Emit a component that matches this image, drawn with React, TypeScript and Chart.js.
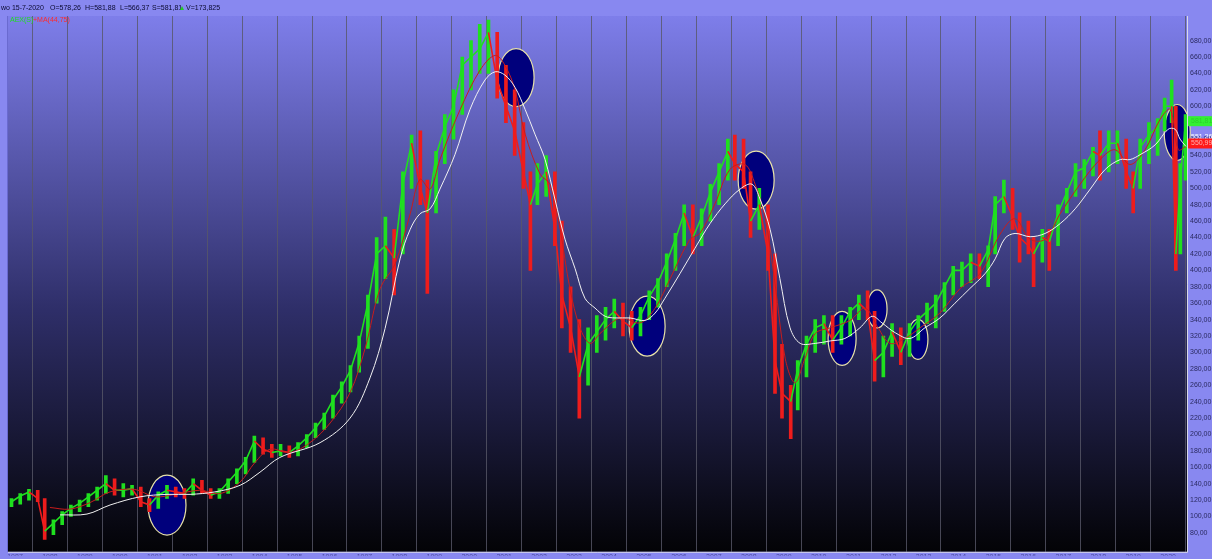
import React, { useEffect, useRef } from "react";
import { Chart, registerables } from "chart.js";

Chart.register(...registerables);

// ---- price bars (period date, low, high, close) ----
const barDates = [
  1986.9, 1987.15, 1987.4, 1987.65, 1987.85,
  1988.1, 1988.35, 1988.6, 1988.85,
  1989.1, 1989.35, 1989.6, 1989.85,
  1990.1, 1990.35, 1990.6, 1990.85,
  1991.1, 1991.35, 1991.6, 1991.85,
  1992.1, 1992.35, 1992.6, 1992.85,
  1993.1, 1993.35, 1993.6, 1993.85,
  1994.1, 1994.35, 1994.6, 1994.85,
  1995.1, 1995.35, 1995.6, 1995.85,
  1996.1, 1996.35, 1996.6, 1996.85,
  1997.1, 1997.35, 1997.6, 1997.85,
  1998.1, 1998.35, 1998.6, 1998.8,
  1999.05, 1999.3, 1999.55, 1999.8,
  2000.05, 2000.3, 2000.55, 2000.8,
  2001.05, 2001.3, 2001.55, 2001.75, 2001.95,
  2002.2, 2002.45, 2002.65, 2002.9,
  2003.15, 2003.4, 2003.65, 2003.9,
  2004.15, 2004.4, 2004.65, 2004.9,
  2005.15, 2005.4, 2005.65, 2005.9,
  2006.15, 2006.4, 2006.65, 2006.9,
  2007.15, 2007.4, 2007.6, 2007.85,
  2008.05, 2008.3, 2008.55, 2008.75, 2008.95,
  2009.2, 2009.4, 2009.65, 2009.9,
  2010.15, 2010.4, 2010.65, 2010.9,
  2011.15, 2011.4, 2011.6, 2011.85,
  2012.1, 2012.35, 2012.6, 2012.85,
  2013.1, 2013.35, 2013.6, 2013.85,
  2014.1, 2014.35, 2014.6, 2014.85,
  2015.05, 2015.3, 2015.55, 2015.75,
  2016.0, 2016.15, 2016.4, 2016.6, 2016.85,
  2017.1, 2017.35, 2017.6, 2017.85,
  2018.05, 2018.3, 2018.55, 2018.8,
  2019.0, 2019.2, 2019.45, 2019.7, 2019.9,
  2020.1, 2020.22, 2020.35, 2020.5,
];
const barLows = [
  112, 115, 120, 118, 72,
  78, 90, 100, 106,
  112, 120, 128, 126,
  124, 126, 112, 106,
  110, 122, 124, 122,
  126, 128, 122, 122,
  128, 140, 152, 166,
  176, 172, 174, 172,
  174, 184, 196, 206,
  220, 238, 252, 276,
  305, 360, 390, 370,
  420, 500, 480, 372,
  470, 530, 560, 590,
  620, 640, 640, 610,
  580, 540, 500, 400, 480,
  490, 430, 330, 300,
  220, 260, 300, 315,
  330, 320, 315, 320,
  340, 355, 380, 400,
  430, 420, 430, 460,
  480, 510, 510, 500,
  440, 450, 400, 250, 220,
  195, 230, 270, 300,
  310, 300, 310, 320,
  340, 340, 265, 270,
  295, 285, 295, 315,
  335, 330, 350, 370,
  380, 385, 390, 380,
  420, 470, 450, 410,
  420, 380, 410, 400, 430,
  470, 490, 500, 515,
  510, 520, 530, 500,
  470, 500, 530, 540, 570,
  580, 400, 420, 510,
];
const barHighs = [
  122, 128, 133, 132, 122,
  96, 106, 114, 120,
  128, 136, 150, 146,
  140, 138, 136, 122,
  130, 138, 136, 134,
  146, 144, 134, 134,
  146, 158, 172, 198,
  196, 188, 188, 186,
  190, 200, 214, 226,
  248, 264, 284, 320,
  370, 440, 465, 450,
  520, 565, 570, 510,
  545, 590, 620, 660,
  680, 700, 705, 690,
  650, 620, 580, 520, 530,
  540, 520, 460, 380,
  340, 330, 345, 355,
  365, 360, 350, 355,
  375, 390, 420, 445,
  480, 480, 475, 505,
  530, 560, 565, 560,
  520, 500, 480, 420, 310,
  260, 290, 320, 340,
  345, 345, 345, 355,
  370, 375, 350, 320,
  335, 330, 335, 345,
  360, 370, 385, 405,
  410, 420, 420, 430,
  490, 510, 500, 470,
  460, 440, 450, 450, 480,
  500, 530, 535, 550,
  570, 570, 570, 560,
  520, 560, 580, 585, 610,
  632, 600, 530, 590,
];
const barCloses = [
  118, 125, 130, 122, 82,
  92, 102, 110, 116,
  124, 132, 140, 132,
  132, 134, 118, 114,
  126, 132, 130, 128,
  140, 132, 126, 130,
  142, 154, 168, 192,
  182, 178, 180, 178,
  186, 196, 208, 222,
  242, 258, 278, 312,
  360, 420, 430, 415,
  505, 555, 500, 470,
  540, 575, 600, 650,
  660, 670, 690, 630,
  600, 570, 520, 480, 505,
  520, 450, 370, 330,
  270, 310, 325, 340,
  350, 338, 330, 345,
  368, 385, 410, 438,
  470, 440, 465, 495,
  520, 545, 530, 520,
  460, 480, 420, 290, 250,
  240, 280, 310, 330,
  335, 315, 330, 350,
  360, 350, 290, 300,
  325, 300, 325, 340,
  350, 360, 380, 400,
  400, 410, 405, 425,
  480, 490, 465, 440,
  430, 420, 440, 435, 470,
  495, 520, 525, 545,
  540, 555, 555, 520,
  500, 550, 565, 575, 600,
  600, 420, 510, 582,
];

// ---- moving averages ----
const redMaDates = [
  1988.0, 1988.57, 1989.15, 1989.72, 1990.43, 1991.0, 1991.58, 1992.29, 1992.87,
  1993.44, 1993.87, 1994.3, 1994.87, 1995.44, 1996.02, 1996.59, 1997.02, 1997.45,
  1997.88, 1998.31, 1998.59, 1998.88, 1999.16, 1999.74, 2000.31, 2000.74, 2001.02,
  2001.31, 2001.6, 2002.03, 2002.31, 2002.6, 2002.88, 2003.17, 2003.46, 2003.74,
  2004.32, 2004.89, 2005.32, 2005.75, 2006.32, 2006.6, 2007.03, 2007.46, 2007.89,
  2008.18, 2008.47, 2008.75, 2009.04, 2009.32, 2009.61, 2009.9, 2010.33, 2010.9,
  2011.33, 2011.7, 2012.04, 2012.47, 2012.9, 2013.47, 2014.05, 2014.62, 2015.19,
  2015.62, 2016.05, 2016.48, 2016.91, 2017.48, 2018.05, 2018.48, 2018.91, 2019.34,
  2019.77, 2020.06, 2020.29, 2020.51,
];
const redMaValues = [
  111, 109, 117, 130, 133, 124, 127, 132, 128,
  142, 166, 182, 178, 190, 214, 251, 305, 378,
  408, 469, 511, 499, 535, 596, 644, 662, 650,
  620, 566, 517, 505, 450, 378, 330, 311, 323,
  342, 336, 354, 390, 438, 445, 481, 523, 529,
  505, 463, 384, 293, 263, 293, 323, 330, 339,
  354, 330, 311, 317, 330, 348, 378, 396, 444,
  463, 438, 438, 469, 505, 535, 547, 529, 547,
  584, 596, 547, 551,
];
const whiteMaDates = [
  1988.29, 1989.06, 1989.72, 1990.58, 1991.35, 1992.01, 1992.72, 1993.44, 1994.01,
  1994.58, 1995.73, 1996.59, 1997.16, 1997.59, 1998.02, 1998.31, 1998.59, 1998.88,
  1999.16, 1999.59, 2000.02, 2000.45, 2000.74, 2001.02, 2001.31, 2001.6, 2001.88,
  2002.17, 2002.45, 2002.74, 2003.03, 2003.31, 2003.6, 2003.89, 2004.17, 2004.6,
  2005.03, 2005.32, 2005.6, 2006.03, 2006.46, 2006.89, 2007.32, 2007.75, 2008.09,
  2008.32, 2008.61, 2008.89, 2009.18, 2009.47, 2009.9, 2010.33, 2010.75, 2011.18,
  2011.53, 2011.81, 2012.19, 2012.61, 2013.04, 2013.47, 2013.9, 2014.33, 2014.76,
  2015.05, 2015.33, 2015.62, 2016.05, 2016.48, 2016.91, 2017.34, 2017.77, 2018.2,
  2018.63, 2018.91, 2019.2, 2019.63, 2020.0, 2020.2, 2020.34, 2020.51,
];
const whiteMaValues = [
  102, 103, 114, 124, 127, 127, 130, 138, 154,
  172, 190, 220, 269, 329, 414, 450, 469, 475,
  499, 541, 596, 632, 642, 638, 623, 596, 566,
  535, 487, 438, 402, 366, 354, 344, 342, 342,
  339, 348, 366, 396, 427, 457, 481, 499, 505,
  487, 450, 390, 330, 311, 311, 314, 317, 330,
  344, 336, 324, 317, 330, 342, 360, 378, 396,
  414, 439, 445, 441, 445, 457, 475, 499, 523,
  535, 535, 541, 553, 572, 572, 560, 551,
];

// ---- axis tick labels ----
const xTickYears = [
  1987, 1988, 1989, 1990, 1991, 1992, 1993, 1994, 1995, 1996, 1997, 1998,
  1999, 2000, 2001, 2002, 2003, 2004, 2005, 2006, 2007, 2008, 2009, 2010,
  2011, 2012, 2013, 2014, 2015, 2016, 2017, 2018, 2019, 2020,
];
const yTickValues = [
  80, 100, 120, 140, 160, 180, 200, 220, 240, 260, 280, 300, 320, 340, 360,
  380, 400, 420, 440, 460, 480, 500, 520, 540, 560, 580, 600, 620, 640, 660, 680,
];

// ---- highlighted zones (centre date / value) ----
const ellipseDates = [1991.35, 2001.34, 2005.09, 2008.21, 2010.67, 2011.67, 2012.84, 2020.26];
const ellipseValues = [114, 635, 332, 510, 317, 353, 316, 568];
const ellipseRadiusX = [19, 18, 18, 18, 14, 10, 10, 13];
const ellipseRadiusY = [30, 29, 30, 29, 27, 19, 20, 28];

// ---- header / last values ----
const headerParts = ["wo 15-7-2020", "O=578,26", "H=581,88", "L=566,37", "S=581,81", "V=173,825"];
const lastClose = 581.81;
const lastRedMa = 550.99;
const lastWhiteMa = 551.265;

const GREEN = "#1fe01f";
const RED = "#ee1c1c";
const FONT = "'Liberation Sans', Arial, sans-serif";

const fmt = (v: number, d = 2) => v.toFixed(d).replace(".", ",");

export default function App() {
  const ref = useRef<HTMLCanvasElement | null>(null);

  useEffect(() => {
    document.body.style.margin = "0";
    document.body.style.background = "#8888f0";
    const canvas = ref.current;
    if (!canvas) return;

    const upFlags = barCloses.map((c, i) => {
      const prev = i === 0 ? (barLows[0] + barHighs[0]) / 2 : barCloses[i - 1];
      return c >= prev;
    });
    const barColors = upFlags.map((u) => (u ? GREEN : RED));

    const bgPlugin = {
      id: "bg",
      beforeDraw(chart: any) {
        const { ctx, chartArea: a, width, height } = chart;
        ctx.save();
        ctx.fillStyle = "#8888f0";
        ctx.fillRect(0, 0, width, height);
        const g = ctx.createLinearGradient(0, a.top, 0, a.bottom);
        g.addColorStop(0, "#7e7eea");
        g.addColorStop(0.55, "#2e2e68");
        g.addColorStop(1, "#030306");
        ctx.fillStyle = g;
        ctx.fillRect(a.left, a.top, a.right - a.left, a.bottom - a.top);
        ctx.restore();
      },
      beforeDatasetsDraw(chart: any) {
        const { ctx } = chart;
        const xs = chart.scales.x;
        const ys = chart.scales.y;
        ctx.save();
        ellipseDates.forEach((d, i) => {
          const cx = xs.getPixelForValue(d);
          const cy = ys.getPixelForValue(ellipseValues[i]);
          ctx.beginPath();
          ctx.ellipse(cx, cy, ellipseRadiusX[i], ellipseRadiusY[i], 0, 0, Math.PI * 2);
          ctx.fillStyle = "#00007c";
          ctx.fill();
          ctx.lineWidth = 1.2;
          ctx.strokeStyle = "#e8e2a8";
          ctx.stroke();
        });
        ctx.restore();
      },
      afterDraw(chart: any) {
        const { ctx, chartArea: a, width } = chart;
        const ys = chart.scales.y;
        ctx.save();
        // plot frame
        ctx.strokeStyle = "#d8d8e8";
        ctx.lineWidth = 1;
        ctx.beginPath();
        ctx.moveTo(a.right + 0.5, a.top);
        ctx.lineTo(a.right + 0.5, a.bottom + 0.5);
        ctx.lineTo(a.left, a.bottom + 0.5);
        ctx.stroke();
        ctx.strokeStyle = "#6a6ad0";
        ctx.beginPath();
        ctx.moveTo(a.left - 0.5, a.top);
        ctx.lineTo(a.left - 0.5, a.bottom);
        ctx.stroke();

        // header text
        ctx.font = `7px ${FONT}`;
        ctx.textBaseline = "middle";
        ctx.fillStyle = "#0a0a30";
        const hx = [1, 50, 85, 120, 152, 186];
        headerParts.forEach((t, i) => ctx.fillText(t, hx[i], 8));
        ctx.fillStyle = "#22cc22";
        ctx.beginPath();
        ctx.moveTo(180, 10);
        ctx.lineTo(184, 10);
        ctx.lineTo(182, 6);
        ctx.closePath();
        ctx.fill();

        // legend inside plot
        ctx.fillStyle = GREEN;
        ctx.fillText("AEX(S)", 10, 20);
        ctx.fillStyle = "#ff2a2a";
        ctx.fillText("+MA(44,75)", 33, 20);

        // right side value markers
        const boxX = a.right + 1;
        const boxW = width - boxX;
        const yc = ys.getPixelForValue(lastClose);
        ctx.fillStyle = "#33f033";
        ctx.fillRect(boxX, yc - 5, boxW, 10);
        ctx.fillStyle = "#2ad02a";
        ctx.fillText(fmt(lastClose), boxX + 3, yc);

        const yw = ys.getPixelForValue(lastWhiteMa) - 9;
        ctx.fillStyle = "#ffffff";
        ctx.fillText(fmt(lastWhiteMa, 3), boxX + 3, yw);

        const yr = ys.getPixelForValue(lastRedMa) - 3;
        ctx.fillStyle = "#ff1a1a";
        ctx.fillRect(boxX, yr - 5, boxW, 10);
        ctx.fillStyle = "#ffb0b0";
        ctx.fillText(fmt(lastRedMa), boxX + 3, yr);
        ctx.restore();
      },
    };

    const chart = new Chart(canvas, {
      type: "bar",
      data: {
        datasets: [
          {
            type: "line",
            label: "MA white",
            data: whiteMaDates.map((d, i) => ({ x: d, y: whiteMaValues[i] })),
            borderColor: "#f2f2f2",
            borderWidth: 1,
            pointRadius: 0,
            tension: 0.35,
            order: 0,
          } as any,
          {
            type: "line",
            label: "MA red",
            data: redMaDates.map((d, i) => ({ x: d, y: redMaValues[i] })),
            borderColor: "#c81c1c",
            borderWidth: 1,
            pointRadius: 0,
            tension: 0.35,
            order: 1,
          } as any,
          {
            type: "line",
            label: "Close",
            data: barDates.map((d, i) => ({ x: d, y: barCloses[i] })),
            borderWidth: 1.6,
            borderColor: GREEN,
            pointRadius: 0,
            tension: 0,
            segment: {
              borderColor: (ctx: any) => (upFlags[ctx.p1DataIndex] ? GREEN : RED),
            },
            order: 2,
          } as any,
          {
            type: "bar",
            label: "AEX",
            data: barDates.map((d, i) => ({ x: d, y: [barLows[i], barHighs[i]] })),
            backgroundColor: barColors,
            borderWidth: 0,
            barThickness: 3,
            order: 3,
          } as any,
        ],
      },
      options: {
        responsive: false,
        animation: false,
        devicePixelRatio: 1,
        layout: { padding: { left: 8, top: 16, right: 0, bottom: 0 } },
        plugins: { legend: { display: false }, tooltip: { enabled: false } },
        scales: {
          x: {
            type: "linear",
            min: 1986.8,
            max: 2020.54,
            offset: false,
            afterBuildTicks: (s: any) => {
              s.ticks = xTickYears.map((v) => ({ value: v }));
            },
            afterFit: (s: any) => {
              s.height = 4;
            },
            ticks: {
              autoSkip: false,
              maxRotation: 0,
              padding: 1,
              color: "#4848a0",
              font: { size: 7, family: FONT },
              callback: (v: any) => String(v),
            },
            grid: {
              color: "rgba(88,88,104,0.8)",
              lineWidth: 1,
              drawTicks: false,
            },
            border: { display: false },
          },
          y: {
            type: "linear",
            position: "right",
            min: 57,
            max: 710,
            afterBuildTicks: (s: any) => {
              s.ticks = yTickValues.map((v) => ({ value: v }));
            },
            afterFit: (s: any) => {
              s.width = 25;
            },
            ticks: {
              padding: 3,
              color: "#2a2a60",
              font: { size: 7, family: FONT },
              callback: (v: any) => fmt(Number(v)),
            },
            grid: { display: false, drawTicks: false },
            border: { display: false },
          },
        },
      } as any,
      plugins: [bgPlugin],
    });

    return () => chart.destroy();
  }, []);

  return (
    <div style={{ width: 1212, height: 559 }}>
      <canvas ref={ref} width={1212} height={559} style={{ display: "block" }} />
    </div>
  );
}
